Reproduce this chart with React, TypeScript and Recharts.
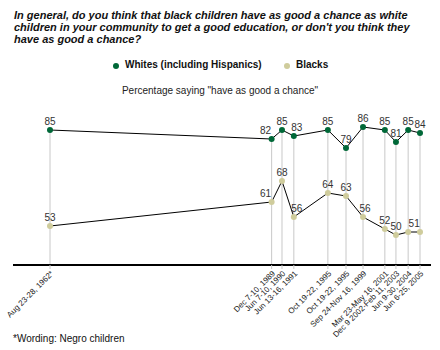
import { LineChart, Line, XAxis, YAxis, ReferenceLine, LabelList } from "recharts";

// poll fielding dates, as printed under the axis
const pollDates = [
  "Aug 23-28, 1962*",
  "Dec 7-10, 1989",
  "Jun 7-10, 1990",
  "Jun 13-16, 1991",
  "Oct 19-22, 1995",
  "Oct 19-22, 1995",
  "Sep 24-Nov 16, 1999",
  "Mar 23-May 16, 2001",
  "Dec 9 2002-Feb 11, 2003",
  "Jun 9-30, 2004",
  "Jun 6-25, 2005",
];
// where each poll sits along the (uneven) timeline, 1962 = 0, 2005 = 100
const timelinePos = [0, 59.9, 62.7, 65.9, 75.1, 80.0, 84.6, 90.5, 93.5, 96.8, 100];
const whites = [85, 82, 85, 83, 85, 79, 86, 85, 81, 85, 84];
const blacks = [53, 61, 68, 56, 64, 63, 56, 52, 50, 51, 51];

const WHITE_COLOR = "#006838";
const BLACK_COLOR = "#cfcc9c";
const FONT = "Arial, 'Liberation Sans', sans-serif";
const Y_MIN = 40;

const data = timelinePos.map((pos, i) => ({
  pos,
  date: pollDates[i],
  whites: whites[i],
  blacks: blacks[i],
}));

// small nudges so value labels don't collide (null = label hidden)
const labelShift: Record<string, Record<number, number | null>> = {
  whites: { 1: -6, 3: 3 },
  blacks: { 1: -6, 3: 3, 6: 2, 9: 6, 10: null },
};

const makeLabel = (series: string) => (props: any) => {
  const { x, y, value, index } = props;
  const shift = labelShift[series][index];
  if (shift === null) return null;
  return (
    <text x={x + (shift || 0)} y={y - 5} textAnchor="middle" fontSize={10} fill="#333" fontFamily={FONT}>
      {value}
    </text>
  );
};

const DateTick = (props: any) => {
  const { x, y, payload } = props;
  const i = timelinePos.indexOf(payload.value);
  const tx = x + 4;
  const ty = y + 3;
  return (
    <text x={tx} y={ty} transform={`rotate(-45 ${tx} ${ty})`} textAnchor="end" fontSize={8} fill="#222" fontFamily={FONT}>
      {pollDates[i]}
    </text>
  );
};

export default function App() {
  return (
    <div style={{ position: "absolute", left: 0, top: 0, width: 440, height: 350, background: "#fff", fontFamily: FONT }}>
      <div style={{ position: "absolute", left: 14, top: 9, fontSize: 11, lineHeight: "12px", fontWeight: "bold", fontStyle: "italic", color: "#111" }}>
        In general, do you think that black children have as good a chance as white
        <br />
        children in your community to get a good education, or don't you think they
        <br />
        have as good a chance?
      </div>

      <div style={{ position: "absolute", left: 0, top: 59, width: 440, height: 14, fontSize: 10, fontWeight: "bold", color: "#111" }}>
        <span style={{ position: "absolute", left: 113, top: 4, width: 6, height: 6, borderRadius: 3, background: WHITE_COLOR }} />
        <span style={{ position: "absolute", left: 125, top: 0 }}>Whites (including Hispanics)</span>
        <span style={{ position: "absolute", left: 284, top: 4, width: 6, height: 6, borderRadius: 3, background: BLACK_COLOR }} />
        <span style={{ position: "absolute", left: 296, top: 0 }}>Blacks</span>
      </div>

      <div style={{ position: "absolute", left: 0, top: 85, width: 440, textAlign: "center", fontSize: 10, color: "#222" }}>
        Percentage saying "have as good a chance"
      </div>

      <div style={{ position: "absolute", left: 0, top: 0 }}>
        <LineChart width={440} height={350} data={data} margin={{ top: 85, right: 9, left: 13, bottom: 0 }}>
          {data.map((d) => (
            <ReferenceLine
              key={d.pos + d.date}
              segment={[
                { x: d.pos, y: d.whites },
                { x: d.pos, y: Y_MIN },
              ]}
              stroke="#c8c8c8"
              strokeWidth={1}
            />
          ))}
          <XAxis
            dataKey="pos"
            type="number"
            domain={[0, 100]}
            ticks={timelinePos}
            interval={0}
            padding={{ left: 37, right: 11 }}
            axisLine={{ stroke: "#000", strokeWidth: 2 }}
            tickLine={{ stroke: "#c8c8c8" }}
            tickSize={4}
            tick={<DateTick />}
            height={85}
          />
          <YAxis hide domain={[Y_MIN, 100]} />
          <Line
            dataKey="whites"
            stroke="#000"
            strokeWidth={1}
            dot={{ r: 3, fill: WHITE_COLOR, stroke: "none" }}
            isAnimationActive={false}
          >
            <LabelList dataKey="whites" content={makeLabel("whites")} />
          </Line>
          <Line
            dataKey="blacks"
            stroke="#000"
            strokeWidth={1}
            dot={{ r: 3, fill: BLACK_COLOR, stroke: "none" }}
            isAnimationActive={false}
          >
            <LabelList dataKey="blacks" content={makeLabel("blacks")} />
          </Line>
        </LineChart>
      </div>

      <div style={{ position: "absolute", left: 13, top: 333, fontSize: 10, color: "#111" }}>*Wording: Negro children</div>
    </div>
  );
}
